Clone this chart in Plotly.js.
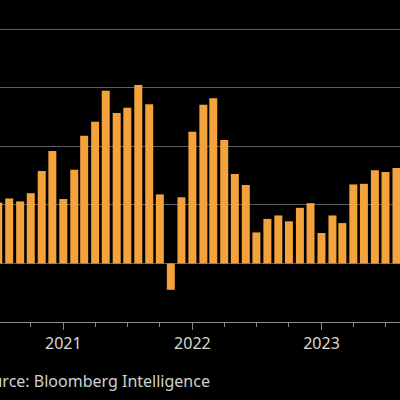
<!DOCTYPE html>
<html>
<head>
<meta charset="utf-8">
<script src="https://cdn.plot.ly/plotly-3.0.1.min.js"></script>
<style>
  html, body { margin: 0; padding: 0; background: #000; }
  #chart { width: 400px; height: 400px; }
</style>
</head>
<body>
<div id="chart"></div>
<script>
const months = [
  '2020-07-01','2020-08-01','2020-09-01','2020-10-01','2020-11-01','2020-12-01',
  '2021-01-01','2021-02-01','2021-03-01','2021-04-01','2021-05-01','2021-06-01',
  '2021-07-01','2021-08-01','2021-09-01','2021-10-01','2021-11-01','2021-12-01',
  '2022-01-01','2022-02-01','2022-03-01','2022-04-01','2022-05-01','2022-06-01',
  '2022-07-01','2022-08-01','2022-09-01','2022-10-01','2022-11-01','2022-12-01',
  '2023-01-01','2023-02-01','2023-03-01','2023-04-01','2023-05-01','2023-06-01',
  '2023-07-01','2023-08-01'
];
const values = [
  1.04, 1.11, 1.06, 1.20, 1.58, 1.92,
  1.10, 1.60, 2.18, 2.42, 2.95, 2.57,
  2.66, 3.05, 2.72, 1.18, -0.45, 1.13,
  2.25, 2.71, 2.82, 2.11, 1.53, 1.34,
  0.53, 0.76, 0.82, 0.72, 0.95, 1.03,
  0.52, 0.82, 0.69, 1.35, 1.36, 1.59,
  1.56, 1.63
];
const yearTicks = ['2021-01-01', '2022-01-01', '2023-01-01'];
const yearLabels = ['2021', '2022', '2023'];
const sourceText = 'Source: Bloomberg Intelligence';

const DAY = 86400000;
const trace = {
  type: 'bar',
  x: months,
  y: values,
  width: months.map(() => 22.6 * DAY),
  marker: { color: '#f4a23c', line: { width: 0 } },
  hoverinfo: 'skip'
};

const layout = {
  width: 400,
  height: 400,
  paper_bgcolor: '#000',
  plot_bgcolor: '#000',
  margin: { l: 0, r: 0, t: 0, b: 78, pad: 0 },
  showlegend: false,
  xaxis: {
    type: 'date',
    range: ['2020-07-06', '2023-08-11'],
    tickmode: 'array',
    tickvals: yearTicks,
    ticktext: yearLabels,
    ticks: 'outside',
    ticklen: 7,
    tickwidth: 1,
    tickcolor: '#8a8a8a',
    showline: true,
    linecolor: '#8a8a8a',
    linewidth: 1,
    showgrid: false,
    zeroline: false,
    tickfont: { family: 'Noto Sans, sans-serif', size: 16, color: '#d9d9d9' },
    minor: {
      dtick: 'M3',
      tick0: '2021-01-01',
      ticks: 'outside',
      ticklen: 4,
      tickcolor: '#8a8a8a',
      tickwidth: 1,
      showgrid: false
    }
  },
  yaxis: {
    range: [-1, 4.5],
    dtick: 1,
    tick0: 0,
    showticklabels: false,
    ticks: '',
    showgrid: true,
    gridcolor: '#5e5e5e',
    gridwidth: 1,
    zeroline: true,
    zerolinecolor: '#5e5e5e',
    zerolinewidth: 1,
    showline: false
  },
  annotations: [{
    text: sourceText,
    xref: 'paper', yref: 'paper',
    x: 212 / 400, xanchor: 'right',
    y: (322 - 381) / 322, yanchor: 'middle',
    showarrow: false,
    font: { family: 'Noto Sans, sans-serif', size: 16, color: '#d0d0d0' }
  }]
};

Plotly.newPlot('chart', [trace], layout, { displayModeBar: false, staticPlot: true });
</script>
</body>
</html>
